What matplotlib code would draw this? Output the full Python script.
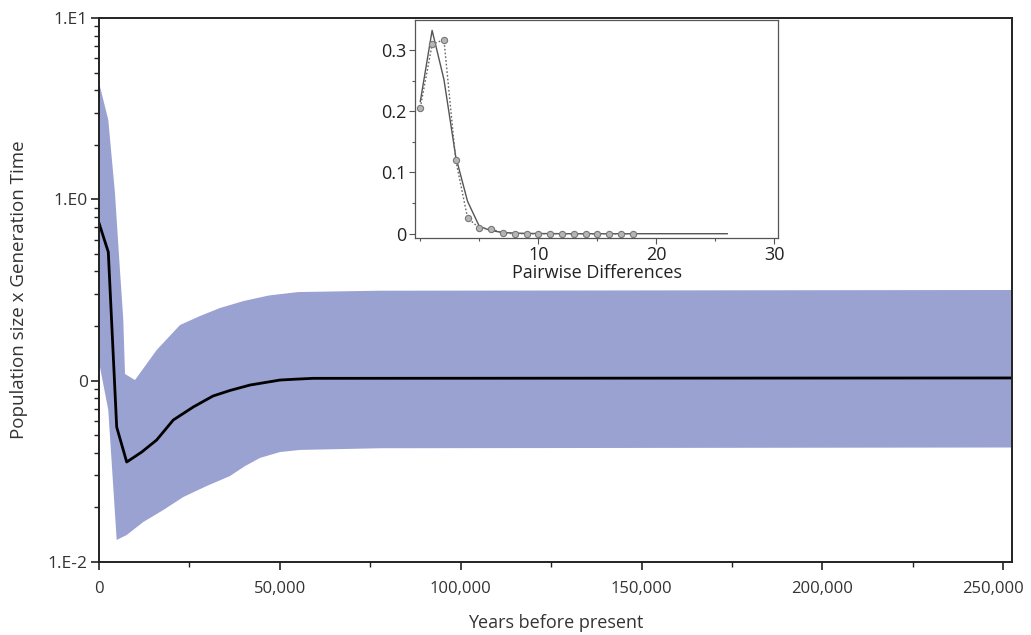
import numpy as np
import matplotlib
matplotlib.use('Agg')
import matplotlib.pyplot as plt
from matplotlib.ticker import FuncFormatter, MultipleLocator, LogLocator, NullFormatter

plt.rcParams['font.family'] = ['Open Sans', 'DejaVu Sans']

# skyline: median and 95% HPD band (years before present, Ne x generation time)
median_years = [0, 2570, 4890, 7660, 11810, 15950, 20540, 26070, 31520, 36220, 41750, 50050, 54750,
                59170, 252440]
median_ne = [0.740, 0.512, 0.0555, 0.0356, 0.0404, 0.0471, 0.0607, 0.0716, 0.0823, 0.0883, 0.0946,
             0.1008, 0.1020, 0.1030, 0.1035]
upper_years = [0, 2570, 4420, 5610, 6720, 7190, 9950, 15950, 22400, 27930, 33460, 40000, 47000,
               55000, 77700, 252440]
upper_ne = [4.40, 2.74, 1.08, 0.463, 0.216, 0.1088, 0.1008, 0.1476, 0.2027, 0.2273, 0.2516, 0.275,
            0.295, 0.308, 0.3134, 0.3162]
lower_years = [0, 2570, 4890, 7660, 12250, 17780, 23310, 29780, 36220, 40370, 44520, 50050, 55580,
               77700, 252440]
lower_ne = [0.1267, 0.0689, 0.01323, 0.01409, 0.01662, 0.01935, 0.02283, 0.02625, 0.0298, 0.0338,
            0.0375, 0.0404, 0.0415, 0.0424, 0.0428]

# inset: mismatch distribution
diff_obs = [0, 1, 2, 3, 4, 5, 6, 7, 8, 9, 10, 11, 12, 13, 14, 15, 16, 17, 18]
freq_obs = [0.206, 0.309, 0.317, 0.120, 0.026, 0.009, 0.008, 0.001, 0.0, 0.0, 0.0, 0.0, 0.0, 0.0,
            0.0, 0.0, 0.0, 0.0, 0.0]
diff_exp = [0, 1, 2, 3, 4, 5, 6, 7, 8, 9, 10, 11, 12, 13, 14, 15, 16, 17, 18, 19, 20, 21, 22, 23,
            24, 25, 26]
freq_exp = [0.216, 0.332, 0.252, 0.126, 0.053, 0.012, 0.005, 0.002, 0.001, 0.0005, 0.0003, 0.0002,
            0.0001, 0.0, 0.0, 0.0, 0.0, 0.0, 0.0, 0.0, 0.0, 0.0, 0.0, 0.0, 0.0, 0.0, 0.0]

ytick_vals = [10, 1, 0.1, 0.01]
ytick_labels = ['1.E1', '1.E0', '0', '1.E-2']

txt = '#333333'

fig = plt.figure(figsize=(10.31, 6.35), dpi=100)
ax = fig.add_axes([99 / 1031, 1 - 562 / 635, (1012 - 99) / 1031, (562 - 18) / 635])

# HPD band as one polygon
band_x = list(upper_years) + list(lower_years[::-1])
band_y = list(upper_ne) + list(lower_ne[::-1])
ax.fill(band_x, band_y, color='#99a2d1', lw=0)
ax.plot(median_years, median_ne, color='black', lw=2.0)

ax.set_yscale('log')
ax.set_ylim(0.01, 10)
ax.set_xlim(0, 252440)
ax.set_yticks(ytick_vals)
ax.set_yticklabels(ytick_labels)
ax.yaxis.set_minor_locator(LogLocator(base=10, subs=range(2, 10)))
ax.yaxis.set_minor_formatter(NullFormatter())
ax.xaxis.set_major_locator(MultipleLocator(50000))
ax.xaxis.set_minor_locator(MultipleLocator(25000))
# the 250,000 label is drawn separately, nudged left so it stays inside the figure
ax.xaxis.set_major_formatter(FuncFormatter(lambda v, p: '' if v >= 250000 else f'{int(v):,}'))
ax.tick_params(which='major', direction='out', length=6, width=1.2, labelsize=12,
               colors='#222222', labelcolor=txt)
ax.tick_params(axis='y', labelsize=12.5, pad=2)
ax.tick_params(which='minor', direction='out', length=3.5, width=1, colors='#222222')
ax.tick_params(axis='x', pad=8)
ax.annotate('250,000', xy=(250000, 0), xycoords=('data', 'axes fraction'),
            xytext=(-7, -14), textcoords='offset points', ha='center', va='top',
            fontsize=12, color=txt)
for s in ax.spines.values():
    s.set_linewidth(1.4)
    s.set_color('#222222')
ax.set_xlabel('Years before present', fontsize=13, color=txt, labelpad=12)
ax.set_ylabel('Population size x Generation Time', fontsize=13.5, color=txt, labelpad=14)

# inset
ins = fig.add_axes([415 / 1031, 1 - 238 / 635, (778 - 415) / 1031, (238 - 20) / 635])
ins.plot(diff_exp, freq_exp, color='#555555', lw=1.0)
ins.plot(diff_obs, freq_obs, color='#666666', lw=1.0, ls=(0, (1.2, 1.5)), marker='o',
         markersize=4.5, markerfacecolor='#b5b5b5', markeredgecolor='#777777', markeredgewidth=0.8)
ins.set_xlim(-0.45, 30.3)
ins.set_ylim(-0.007, 0.349)
ins.set_xticks([10, 20, 30])
ins.set_xticklabels(['10', '20', '30'])
ins.xaxis.set_minor_locator(MultipleLocator(5))
ins.set_yticks([0, 0.1, 0.2, 0.3])
ins.set_yticklabels(['0', '0.1', '0.2', '0.3'])
ins.yaxis.set_minor_locator(MultipleLocator(0.05))
ins.tick_params(which='major', direction='out', length=4, width=0.8, labelsize=13,
                colors='#555555', labelcolor='#222222', pad=2)
ins.tick_params(which='minor', direction='out', length=2.5, width=0.8, colors='#555555')
for s in ins.spines.values():
    s.set_linewidth(0.9)
    s.set_color('#555555')
ins.set_xlabel('Pairwise Differences', fontsize=13, color='#222222', labelpad=0)

fig.savefig('out.png', dpi=100)
